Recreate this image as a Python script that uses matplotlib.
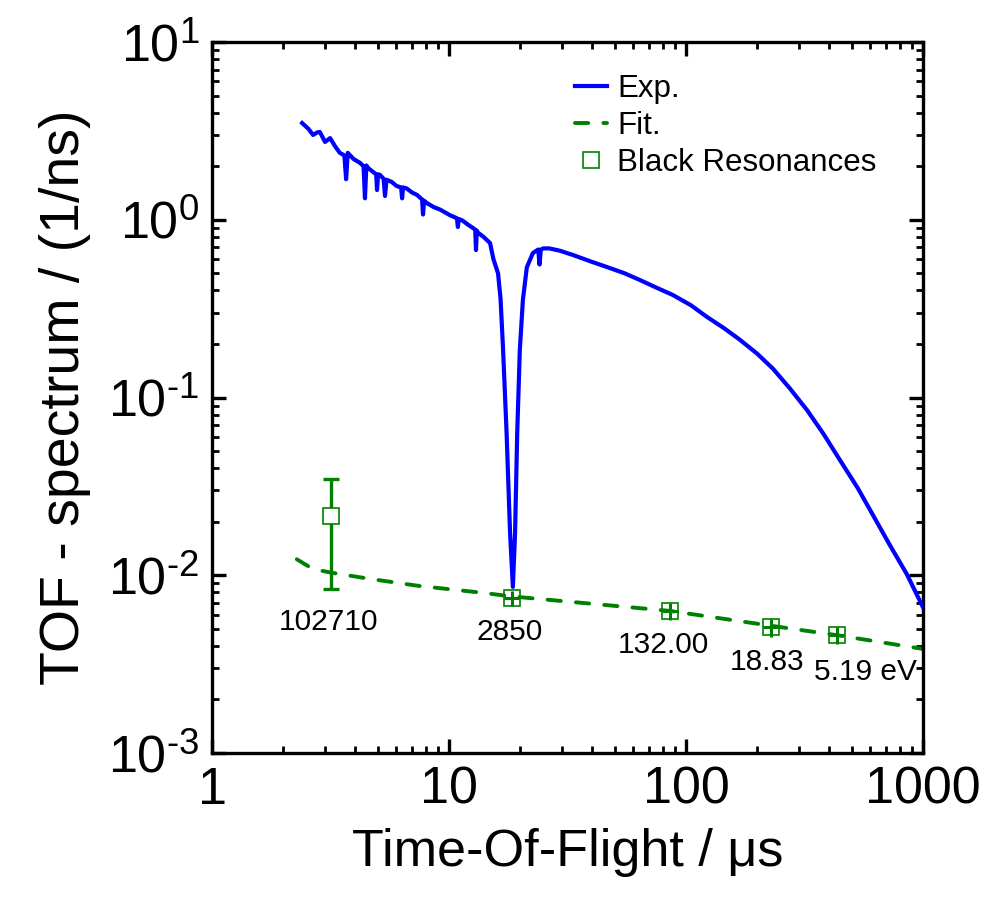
import matplotlib
matplotlib.use("Agg")
import matplotlib.pyplot as plt
from matplotlib.ticker import LogLocator, NullFormatter, FixedLocator

plt.rcParams['font.family'] = ['Liberation Sans', 'DejaVu Sans']
plt.rcParams['mathtext.fontset'] = 'custom'
plt.rcParams['mathtext.rm'] = 'Liberation Sans'

# ---- data ----
exp_t = [2.40, 2.55, 2.67, 2.78, 2.85, 3.0, 3.15, 3.3, 3.46, 3.62, 3.68, 3.74, 3.95, 4.21,
         4.36, 4.42, 4.48, 4.55, 4.8, 4.93, 4.97, 5.02, 5.11, 5.30, 5.37, 5.45, 5.74, 6.0,
         6.28, 6.34, 6.40, 6.63, 7.0, 7.33, 7.70, 7.77, 7.85, 8.08, 8.6, 9.18, 10.1, 10.8,
         10.9, 11.0, 11.4, 12.0, 12.6, 12.9, 13.0, 13.1, 13.2, 14.0, 14.9, 15.4, 16.1, 16.5,
         16.9, 17.5, 18.1, 18.6, 19.0, 19.4, 19.9, 20.5, 21.3, 22.6, 23.8, 24.1, 24.4, 25.0,
         26.5, 29.3, 33.4, 40, 46.4, 55, 63.9, 75, 88.1, 105, 122.6, 145, 169, 200, 233, 275,
         324, 380, 446, 530, 615, 720, 856, 1000]
exp_y = [3.50, 3.25, 3.00, 3.10, 3.12, 2.74, 2.88, 2.60, 2.38, 2.30, 1.69, 2.38, 2.20, 2.09,
         2.00, 1.32, 2.02, 1.96, 1.85, 1.80, 1.47, 1.80, 1.79, 1.70, 1.36, 1.68, 1.63, 1.55,
         1.52, 1.32, 1.52, 1.50, 1.42, 1.38, 1.30, 1.07, 1.28, 1.24, 1.18, 1.14, 1.06, 1.02,
         0.91, 1.01, 0.99, 0.94, 0.90, 0.88, 0.675, 0.87, 0.85, 0.80, 0.74, 0.60, 0.50, 0.36,
         0.19, 0.063, 0.0173, 0.0086, 0.0173, 0.063, 0.185, 0.354, 0.54, 0.65, 0.68, 0.56, 0.68, 0.69,
         0.69, 0.67, 0.633, 0.58, 0.542, 0.50, 0.458, 0.415, 0.377, 0.33, 0.284, 0.245, 0.211, 0.176,
         0.145, 0.112, 0.085, 0.0625, 0.0445, 0.031, 0.0218, 0.0150, 0.0101, 0.0066]

fit_t = [2.28, 2.45, 2.59, 2.9, 3.24, 4.5, 7.5, 13.5, 18.4, 85.6, 228, 434, 1000]
fit_y = [0.0123, 0.0116, 0.0111, 0.0106, 0.0103, 0.0096, 0.0087, 0.0080, 0.0076, 0.0063,
         0.0052, 0.0046, 0.00385]

res_t = [3.18, 18.4, 85.6, 228, 434]
res_y = [0.0216, 0.00745, 0.0063, 0.0051, 0.0046]
res_yerr = [0.0132, 0.0007, 0.0007, 0.0006, 0.0005]
res_xerr = [0.0, 1.4, 6.5, 17.0, 32.0]
res_labels = ['102710', '2850', '132.00', '18.83', '5.19 eV']

x_ticks = [1, 10, 100, 1000]
x_ticklabels = ['1', '10', '100', '1000']
y_ticks = [1e-3, 1e-2, 1e-1, 1e0, 1e1]
y_ticklabels = [r'$\mathregular{10^{\text{-}3}}$', r'$\mathregular{10^{\text{-}2}}$',
                r'$\mathregular{10^{\text{-}1}}$', r'$\mathregular{10^{0}}$',
                r'$\mathregular{10^{1}}$']

# ---- figure ----
fig = plt.figure(figsize=(9.86, 8.98), dpi=100)
ax = fig.add_axes([212/986, 1-753/898, 711/986, 711/898])

blue = '#0000ff'
green = '#008000'

ax.plot(exp_t, exp_y, color=blue, lw=3.0, label='Exp.', zorder=3)
ax.plot(fit_t, fit_y, color=green, lw=2.8, ls=(0, (3.4, 3.9)), dash_capstyle='round',
        label='Fit.', zorder=2)

# big error bar for first resonance
ax.errorbar(res_t[:1], res_y[:1], yerr=res_yerr[:1], fmt='none', ecolor=green,
            elinewidth=2.4, capsize=6, capthick=2.4, zorder=4)
ax.plot(res_t[:1], res_y[:1], ls='none', marker='s', ms=11.5, mfc='white', mec=green,
        mew=1.2, zorder=5)
# small resonances: square with cross of error bars
ax.plot(res_t[1:], res_y[1:], ls='none', marker='s', ms=11.5, mfc='none', mec=green,
        mew=1.2, zorder=5)
ax.errorbar(res_t[1:], res_y[1:], yerr=res_yerr[1:], xerr=res_xerr[1:], fmt='none',
            ecolor=green, elinewidth=2.2, capsize=0, zorder=6)
# legend proxy
ax.plot([], [], ls='none', marker='s', ms=11.5, mfc='white', mec=green, mew=1.2,
        label='Black Resonances')

offsets = [(-3, -106), (-2, -34), (-7, -34), (-4, -35), (28, -37)]
for t, y, lab, off in zip(res_t, res_y, res_labels, offsets):
    ax.annotate(lab, xy=(t, y), xytext=off, textcoords='offset pixels',
                ha='center', va='center', fontsize=21.5)

ax.set_xscale('log')
ax.set_yscale('log')
ax.set_xlim(1, 1000)
ax.set_ylim(1e-3, 1e1)

ax.xaxis.set_major_locator(FixedLocator(x_ticks))
ax.set_xticklabels(x_ticklabels)
ax.yaxis.set_major_locator(FixedLocator(y_ticks))
ax.set_yticklabels(y_ticklabels)
ax.xaxis.set_minor_locator(LogLocator(base=10, subs=range(2, 10), numticks=20))
ax.yaxis.set_minor_locator(LogLocator(base=10, subs=range(2, 10), numticks=20))
ax.xaxis.set_minor_formatter(NullFormatter())
ax.yaxis.set_minor_formatter(NullFormatter())

ax.tick_params(which='both', direction='in', top=True, right=True, labelsize=37.5, pad=9)
ax.tick_params(which='major', length=10, width=2.4)
ax.tick_params(which='minor', length=5, width=2.0)
for s in ax.spines.values():
    s.set_linewidth(2.4)

ax.set_xlabel('Time-Of-Flight / \u03bcs', fontsize=37.5, labelpad=10)
ax.set_ylabel('TOF - spectrum / (1/ns)', fontsize=40, labelpad=12)

leg = ax.legend(loc='upper left', bbox_to_anchor=(0.493, 0.972), frameon=False, fontsize=22.5,
                handlelength=1.02, handletextpad=0.32, labelspacing=0.22, borderaxespad=0)

fig.savefig('out.png', dpi=100)
